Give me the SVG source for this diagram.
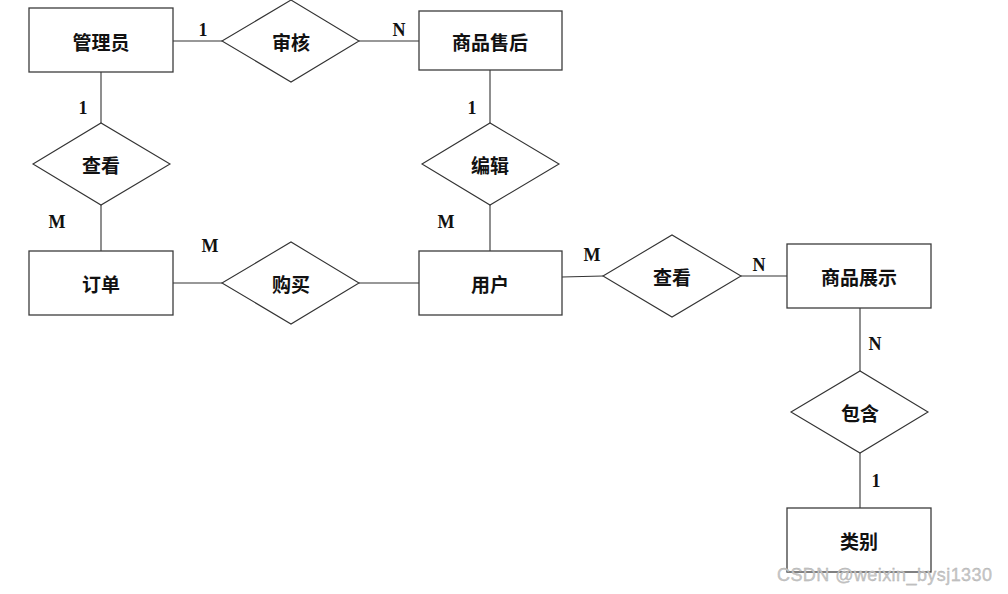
<svg xmlns="http://www.w3.org/2000/svg" width="1008" height="594" viewBox="0 0 1008 594">
<style>
.ent{fill:#fff;stroke:#3c3c3c;stroke-width:1.3}
.rel{fill:#fff;stroke:#333;stroke-width:1.1}
.ln{stroke:#333;stroke-width:1.1;fill:none}
.t{font-family:"Noto Sans CJK SC","Noto Sans CJK JP",sans-serif;font-size:19px;font-weight:bold;fill:#111;text-anchor:middle;dominant-baseline:central}
.c{font-family:"Liberation Serif","Times New Roman",serif;font-size:18px;font-weight:bold;fill:#111;text-anchor:middle}
.wm{font-family:"Liberation Sans",Arial,sans-serif;font-size:18px;fill:#c8c8c8;stroke:#aaa;stroke-width:0.3}
</style>
<rect width="1008" height="594" fill="#fff"/>
<g id="connectors">
<line class="ln" x1="173" y1="41" x2="222" y2="41"/>
<line class="ln" x1="359" y1="41" x2="419" y2="41"/>
<line class="ln" x1="101" y1="72" x2="101" y2="123"/>
<line class="ln" x1="101" y1="205" x2="101" y2="251"/>
<line class="ln" x1="490" y1="70" x2="490" y2="123"/>
<line class="ln" x1="490" y1="205" x2="490" y2="251"/>
<line class="ln" x1="173" y1="283" x2="222" y2="283"/>
<line class="ln" x1="359" y1="283" x2="419" y2="283"/>
<line class="ln" x1="562" y1="277" x2="603" y2="276"/>
<line class="ln" x1="741" y1="276" x2="787" y2="276"/>
<line class="ln" x1="860" y1="308" x2="860" y2="371"/>
<line class="ln" x1="860" y1="453" x2="860" y2="508"/>
</g>
<g id="n-admin"><rect class="ent" x="29" y="8" width="144" height="64"/><text class="t" x="101" y="41">管理员</text></g>
<g id="n-audit"><polygon class="rel" points="222,41 291,0 359,41 291,82"/><text class="t" x="291" y="41">审核</text></g>
<g id="n-aftersale"><rect class="ent" x="419" y="11" width="143" height="59"/><text class="t" x="490" y="41">商品售后</text></g>
<g id="n-view1"><polygon class="rel" points="33,164 101,123 170,164 101,205"/><text class="t" x="101" y="164">查看</text></g>
<g id="n-edit"><polygon class="rel" points="422,164 490,123 559,164 490,205"/><text class="t" x="490" y="164">编辑</text></g>
<g id="n-order"><rect class="ent" x="29" y="251" width="144" height="64"/><text class="t" x="101" y="283">订单</text></g>
<g id="n-buy"><polygon class="rel" points="222,283 291,242 359,283 291,324"/><text class="t" x="291" y="283">购买</text></g>
<g id="n-user"><rect class="ent" x="419" y="251" width="143" height="64"/><text class="t" x="490" y="283">用户</text></g>
<g id="n-view2"><polygon class="rel" points="603,276 672,235 741,276 672,317"/><text class="t" x="672" y="276">查看</text></g>
<g id="n-display"><rect class="ent" x="787" y="244" width="144" height="64"/><text class="t" x="859" y="276">商品展示</text></g>
<g id="n-contain"><polygon class="rel" points="791,412 860,371 928,412 860,453"/><text class="t" x="860" y="412">包含</text></g>
<g id="n-category"><rect class="ent" x="787" y="508" width="144" height="64"/><text class="t" x="859" y="540">类别</text></g>
<g id="labels">
<text class="c" x="203" y="36">1</text>
<text class="c" x="399" y="36">N</text>
<text class="c" x="83" y="114">1</text>
<text class="c" x="57" y="228">M</text>
<text class="c" x="472" y="114">1</text>
<text class="c" x="446" y="228">M</text>
<text class="c" x="210" y="252">M</text>
<text class="c" x="592" y="261">M</text>
<text class="c" x="759" y="271">N</text>
<text class="c" x="875" y="350">N</text>
<text class="c" x="876" y="487">1</text>
</g>
<text class="wm" x="777" y="581" textLength="215">CSDN @weixin_bysj1330</text>
</svg>
